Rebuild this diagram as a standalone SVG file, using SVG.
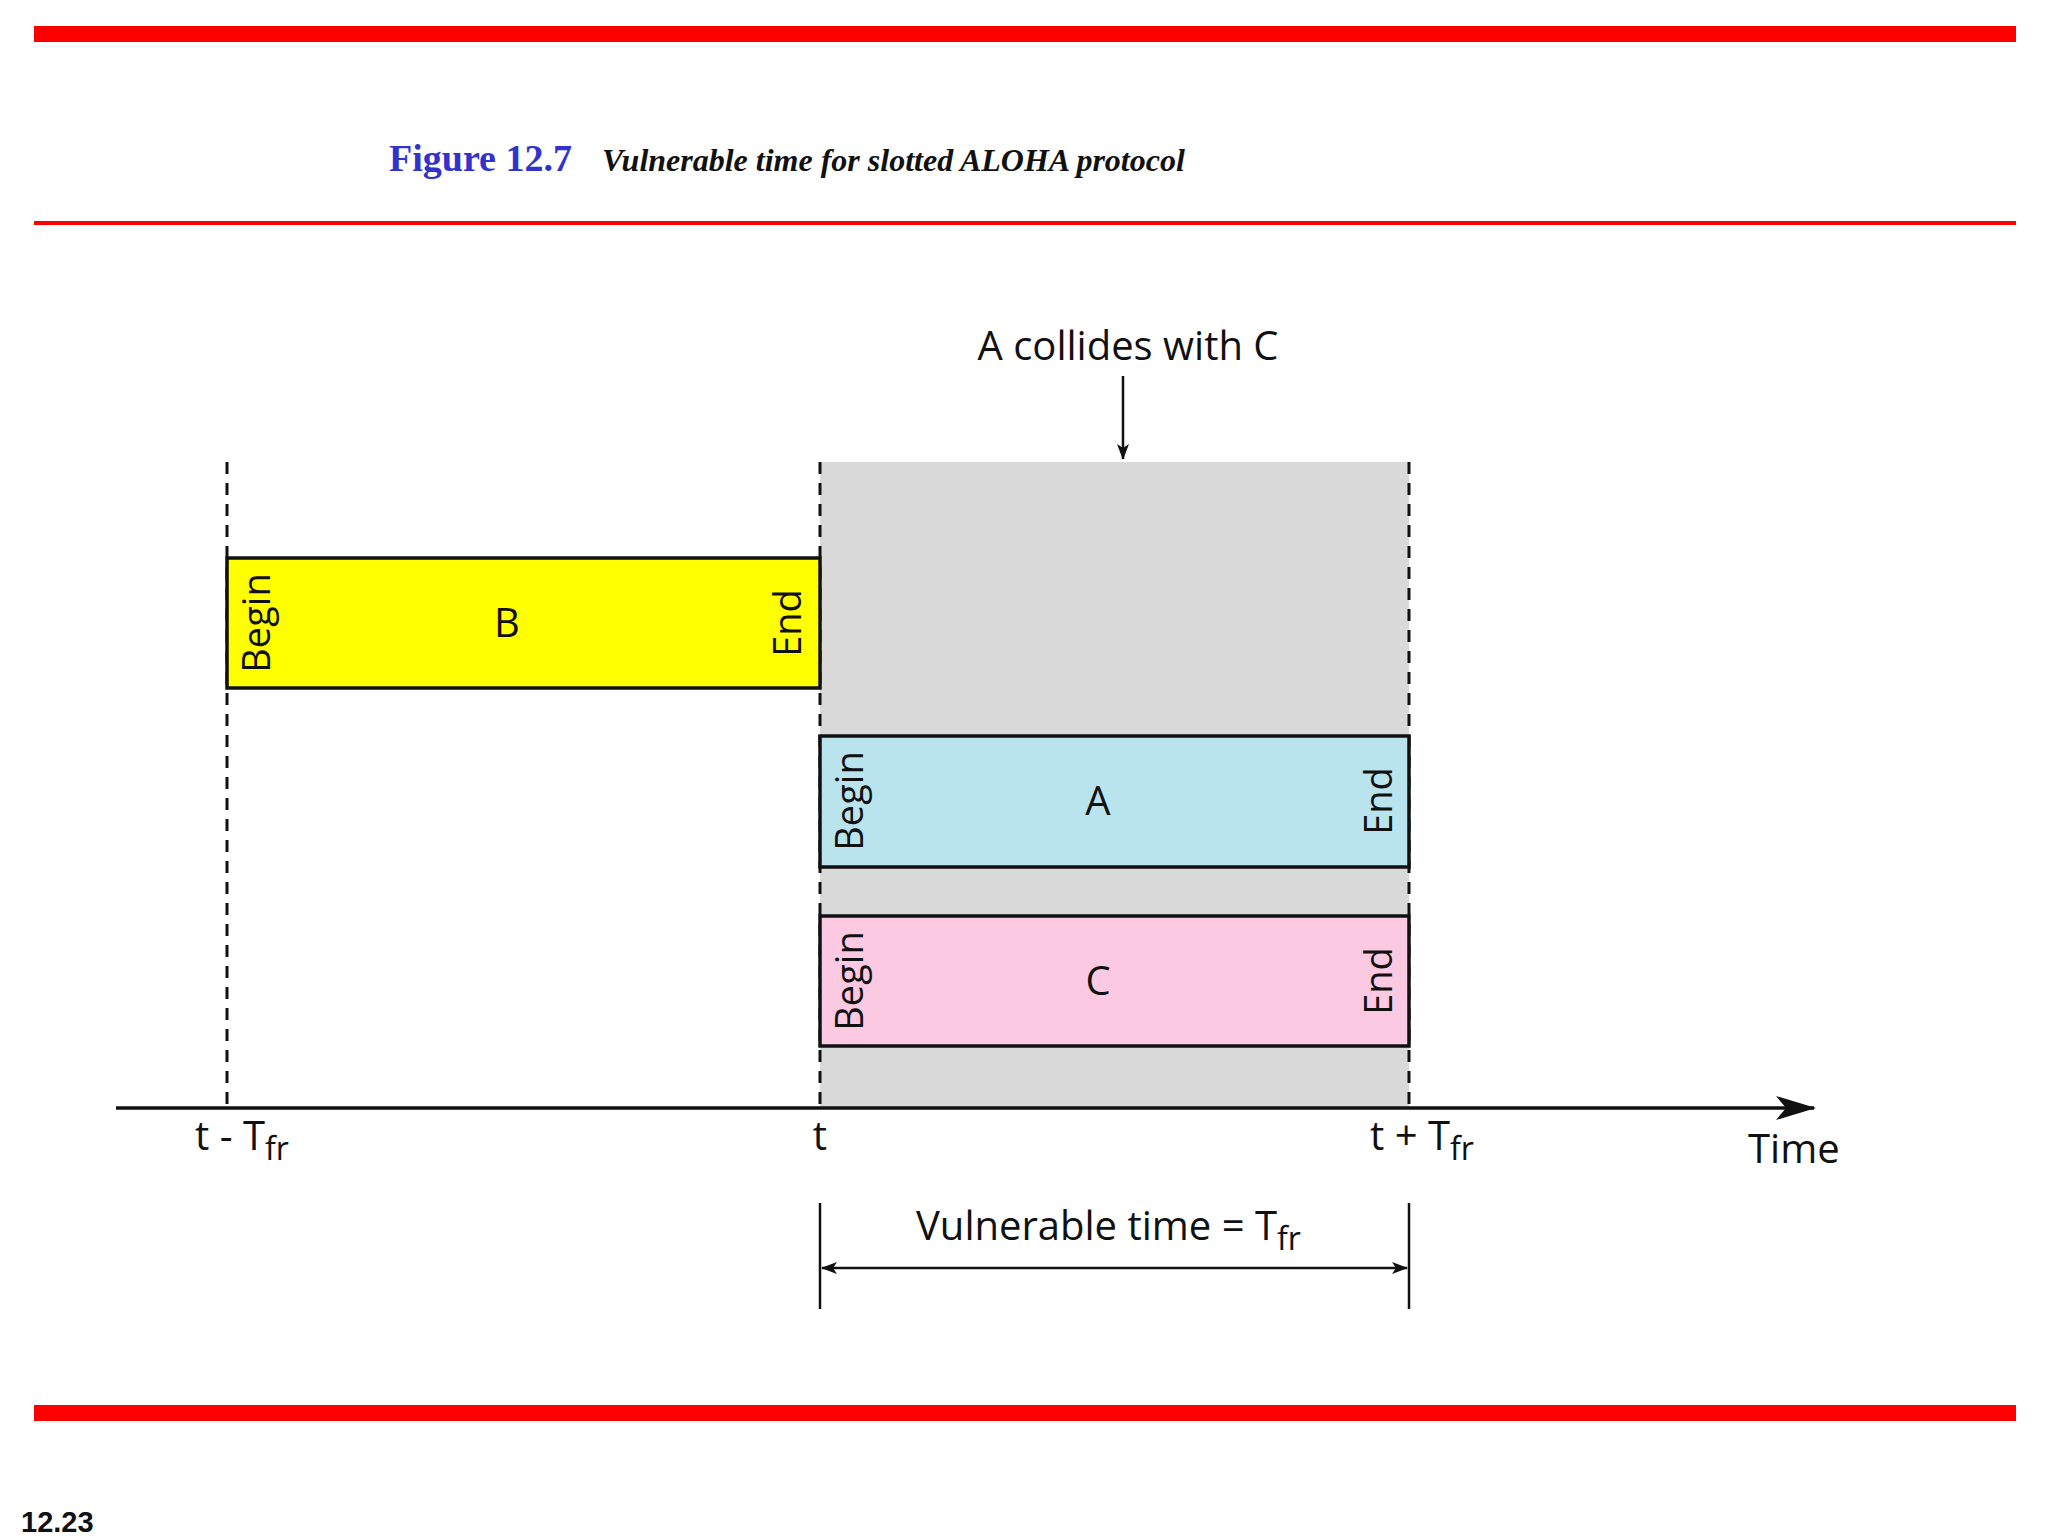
<svg xmlns="http://www.w3.org/2000/svg" width="2048" height="1536" viewBox="0 0 2048 1536">
<defs>
<style>
.t{font-family:"Open Sans","Liberation Sans",sans-serif;fill:#111}
.lbl{font-size:40px}
.be{font-size:38px}
.box{stroke:#111;stroke-width:3.5}
.dash{stroke:#111;stroke-width:3;stroke-dasharray:12,9}
</style>
<marker id="big" markerWidth="40" markerHeight="24" refX="38" refY="12" orient="auto" markerUnits="userSpaceOnUse"><path d="M0,0 L40,12 L0,24 L10,12 Z" fill="#111"/></marker>
<marker id="sm" markerWidth="16" markerHeight="12" refX="15" refY="6" orient="auto-start-reverse" markerUnits="userSpaceOnUse"><path d="M0,0 L16,6 L0,12 L4,6 Z" fill="#111"/></marker>
</defs>
<rect width="2048" height="1536" fill="#fff"/>
<rect x="34" y="26" width="1982" height="16" fill="#f00"/>
<rect x="34" y="221" width="1982" height="4" fill="#f00"/>
<rect x="34" y="1405" width="1982" height="16" fill="#f00"/>
<text x="389" y="171" font-family="Liberation Serif,serif" font-weight="bold" font-size="38" fill="#3333cc">Figure 12.7</text>
<text x="602" y="171" font-family="Liberation Serif,serif" font-weight="bold" font-style="italic" font-size="32" fill="#111">Vulnerable time for slotted ALOHA protocol</text>
<text x="21" y="1532" font-family="Liberation Sans,sans-serif" font-weight="bold" font-size="29" fill="#111">12.23</text>
<rect x="820" y="462" width="589" height="646" fill="#d9d9d9"/>
<g id="connectors">
<line class="dash" x1="227" y1="462" x2="227" y2="1108"/>
<line class="dash" x1="820" y1="462" x2="820" y2="1108"/>
<line class="dash" x1="1409" y1="462" x2="1409" y2="1108"/>
<line x1="116" y1="1108" x2="1814" y2="1108" stroke="#111" stroke-width="3.5" marker-end="url(#big)"/>
<line x1="1123" y1="376" x2="1123" y2="459" stroke="#111" stroke-width="2.5" marker-end="url(#sm)"/>
<line x1="820" y1="1203" x2="820" y2="1309" stroke="#111" stroke-width="2.5"/>
<line x1="1409" y1="1203" x2="1409" y2="1309" stroke="#111" stroke-width="2.5"/>
<line x1="822" y1="1268" x2="1407" y2="1268" stroke="#111" stroke-width="2.5" marker-start="url(#sm)" marker-end="url(#sm)"/>
</g>
<g id="B">
<rect class="box" x="227" y="558" width="593" height="130" fill="#ffff00"/>
<text class="t be" transform="translate(270,623) rotate(-90)" text-anchor="middle">Begin</text>
<text class="t be" transform="translate(801,623) rotate(-90)" text-anchor="middle">End</text>
<text class="t lbl" x="507" y="637" text-anchor="middle">B</text>
</g>
<g id="A">
<rect class="box" x="820" y="736" width="589" height="131" fill="#b9e4ee"/>
<text class="t be" transform="translate(863,801) rotate(-90)" text-anchor="middle">Begin</text>
<text class="t be" transform="translate(1392,801) rotate(-90)" text-anchor="middle">End</text>
<text class="t lbl" x="1098" y="815" text-anchor="middle">A</text>
</g>
<g id="C">
<rect class="box" x="820" y="916" width="589" height="130" fill="#fbc9e2"/>
<text class="t be" transform="translate(863,981) rotate(-90)" text-anchor="middle">Begin</text>
<text class="t be" transform="translate(1392,981) rotate(-90)" text-anchor="middle">End</text>
<text class="t lbl" x="1098" y="995" text-anchor="middle">C</text>
</g>
<g id="labels">
<text class="t lbl" x="1128" y="360" text-anchor="middle">A collides with C</text>
<text class="t lbl" x="195" y="1150">t - T<tspan font-size="32" dy="10">fr</tspan></text>
<text class="t lbl" x="820" y="1150" text-anchor="middle">t</text>
<text class="t lbl" x="1370" y="1150">t + T<tspan font-size="32" dy="10">fr</tspan></text>
<text class="t lbl" x="1748" y="1163">Time</text>
<text class="t lbl" x="916" y="1240">Vulnerable time = T<tspan font-size="32" dy="10">fr</tspan></text>
</g>
</svg>
